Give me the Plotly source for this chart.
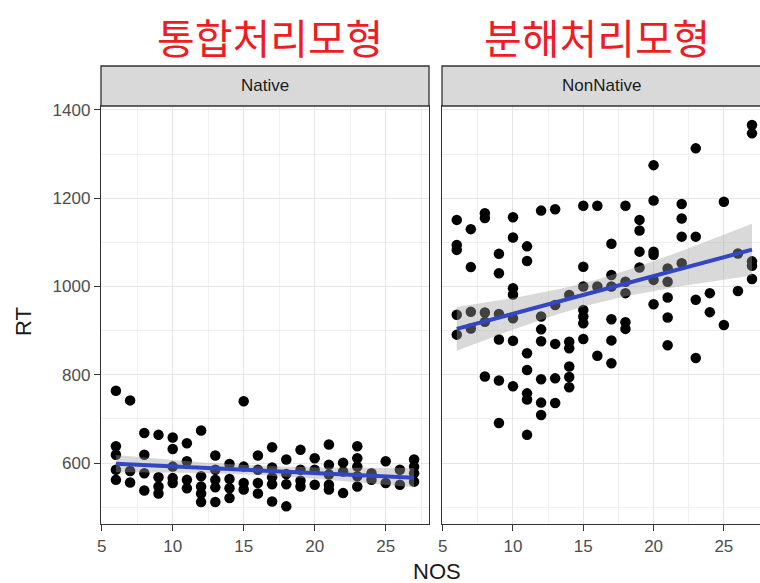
import numpy as np
import plotly.graph_objects as go

# ---------------- data ----------------
native_nos = ([6]*5 + [7]*3 + [8]*4 + [9]*4 + [10]*5 + [11]*4 + [12]*5 + [13]*5 +
              [14]*4 + [15]*4 + [16]*4 + [17]*5 + [18]*4 + [19]*4 + [20]*3 + [21]*5 +
              [22]*3 + [23]*5 + [24]*2 + [25]*2 + [26]*2 + [27]*4)
native_rt = [764, 638, 619, 585, 562,
             742, 582, 556,
             668, 619, 577, 538,
             664, 568, 547, 531,
             658, 632, 592, 566, 555,
             645, 604, 562, 543,
             674, 570, 547, 531, 512,
             617, 585, 562, 545, 512,
             598, 564, 543, 521,
             740, 592, 555, 540,
             617, 585, 555, 531,
             636, 590, 568, 552, 513,
             608, 575, 552, 502,
             630, 585, 560, 547,
             611, 585, 551,
             642, 596, 574, 551, 540,
             601, 581, 532,
             638, 611, 592, 570, 547,
             577, 562,
             604, 555,
             585, 551,
             608, 592, 577, 558]

nonnative_nos = ([6]*5 + [7]*4 + [8]*5 + [9]*6 + [10]*7 + [11]*7 + [12]*7 + [13]*5 +
                 [14]*6 + [15]*7 + [16]*3 + [17]*6 + [18]*5 + [19]*4 + [20]*6 + [21]*5 +
                 [22]*4 + [23]*4 + [24]*2 + [25]*2 + [26]*2 + [27]*5)
nonnative_rt = [1151, 1094, 1083, 936, 891,
                1130, 1044, 943, 905,
                1166, 1155, 941, 920, 796,
                1074, 1030, 938, 880, 787, 691,
                1157, 1111, 996, 982, 928, 877, 774,
                1091, 1058, 849, 811, 758, 744, 664,
                1172, 932, 903, 876, 790, 737, 709,
                1175, 958, 870, 792, 736,
                981, 875, 860, 819, 795, 772,
                1183, 1045, 1000, 947, 932, 917, 881,
                1183, 1000, 843,
                1097, 1026, 1000, 926, 878, 826,
                1183, 1011, 985, 919, 904,
                1151, 1127, 1079, 1043,
                1275, 1195, 1079, 1072, 1015, 960,
                1041, 1011, 975, 930, 867,
                1187, 1154, 1113, 1053,
                1313, 1113, 970, 838,
                985, 942,
                1192, 913,
                1075, 990,
                1366, 1347, 1057, 1047, 1017]

panel_labels = ["Native", "NonNative"]
model_titles = ["통합처리모형", "분해처리모형"]
x_ticks = [5, 10, 15, 20, 25]
y_ticks = [600, 800, 1000, 1200, 1400]

# ---------------- helpers ----------------
def lm_band(x, y, t=1.98, n=80):
    x = np.asarray(x, float); y = np.asarray(y, float)
    b1, b0 = np.polyfit(x, y, 1)
    xs = np.linspace(x.min(), x.max(), n)
    fit = b0 + b1 * xs
    resid = y - (b0 + b1 * x)
    s = np.sqrt(np.sum(resid ** 2) / (len(x) - 2))
    sxx = np.sum((x - x.mean()) ** 2)
    se = s * np.sqrt(1 / len(x) + (xs - x.mean()) ** 2 / sxx)
    return xs, fit, fit - t * se, fit + t * se

fig = go.Figure()
panels = [(native_nos, native_rt, "x", "y"), (nonnative_nos, nonnative_rt, "x2", "y2")]
for xs_, ys_, xa, ya in panels:
    fig.add_trace(go.Scatter(x=xs_, y=ys_, mode="markers", xaxis=xa, yaxis=ya,
                             marker=dict(color="black", size=10.5, line=dict(width=0)),
                             showlegend=False, hoverinfo="skip"))
    gx, gfit, glo, ghi = lm_band(xs_, ys_)
    fig.add_trace(go.Scatter(x=np.concatenate([gx, gx[::-1]]),
                             y=np.concatenate([ghi, glo[::-1]]),
                             fill="toself", fillcolor="rgba(160,160,160,0.4)",
                             line=dict(width=0), mode="lines", xaxis=xa, yaxis=ya,
                             showlegend=False, hoverinfo="skip"))
    fig.add_trace(go.Scatter(x=gx, y=gfit, mode="lines", xaxis=xa, yaxis=ya,
                             line=dict(color="#3347C4", width=4),
                             showlegend=False, hoverinfo="skip"))

W, H = 760, 583
L, R, T, B = 101, 0, 106, 59
pw = W - L - R
ph = H - T - B
d1 = [0, 328 / pw]
d2 = [341 / pw, 1]

grid = "#E6E6E6"
tickfont = dict(family="Liberation Sans, Arial", size=17, color="#4D4D4D")
axis_common = dict(showgrid=True, gridcolor=grid, gridwidth=1.3,
                   zeroline=False, showline=True, linecolor="#333333", linewidth=1.3,
                   mirror=True, tickcolor="#333333", tickwidth=1.3, tickfont=tickfont)
xminor = dict(dtick=2.5, tick0=0, showgrid=True, gridcolor="#F0F0F0", gridwidth=0.9, ticks="")
yminor = dict(dtick=100, tick0=0, showgrid=True, gridcolor="#F0F0F0", gridwidth=0.9, ticks="")

fig.update_layout(
    width=W, height=H, margin=dict(l=L, r=R, t=T, b=B, pad=0),
    paper_bgcolor="white", plot_bgcolor="white",
    xaxis=dict(domain=d1, range=[4.95, 28.05], tickvals=x_ticks, anchor="y",
               ticks="outside", ticklen=6, minor=xminor, **axis_common),
    xaxis2=dict(domain=d2, range=[4.95, 27.57], tickvals=x_ticks, anchor="y2",
                ticks="outside", ticklen=6, minor=xminor, **axis_common),
    yaxis=dict(domain=[0, 1], range=[462, 1409], tickvals=y_ticks, anchor="x",
               ticks="outside", ticklen=6, minor=yminor, **axis_common),
    yaxis2=dict(domain=[0, 1], range=[462, 1409], tickvals=y_ticks, anchor="x2",
                matches="y", showticklabels=False, ticks="", minor=yminor, **axis_common),
)

strip_h = 40 / ph
shapes = []
annotations = []
strip_centers = [(101 + 429) / 2, 601]
for dom, lab, cxs in zip([d1, d2], panel_labels, strip_centers):
    shapes.append(dict(type="rect", xref="paper", yref="paper",
                       x0=dom[0], x1=dom[1] + (0.01 if dom[1] == 1 else 0),
                       y0=1, y1=1 + strip_h,
                       fillcolor="#D9D9D9", line=dict(color="#333333", width=1.3),
                       layer="above"))
    annotations.append(dict(text=lab, xref="paper", yref="paper",
                            x=(cxs - L) / pw, y=1 + strip_h / 2, showarrow=False,
                            font=dict(family="Liberation Sans, Arial", size=17, color="#1A1A1A"),
                            xanchor="center", yanchor="middle"))

for cx, txt in zip([270, 597], model_titles):
    annotations.append(dict(text=txt, xref="paper", yref="paper",
                            x=(cx - L) / pw, y=1 + (T - 36) / ph, showarrow=False,
                            font=dict(family="Noto Sans CJK KR", size=41, color="#EE1C25"),
                            xanchor="center", yanchor="middle"))

annotations.append(dict(text="NOS", xref="paper", yref="paper",
                        x=(437 - L) / pw, y=-(571 - (T + ph)) / ph, showarrow=False,
                        font=dict(family="Liberation Sans, Arial", size=22, color="#1A1A1A"),
                        xanchor="center", yanchor="middle"))
annotations.append(dict(text="RT", xref="paper", yref="paper",
                        x=-(L - 23) / pw, y=(T + ph - 322) / ph, showarrow=False, textangle=-90,
                        font=dict(family="Liberation Sans, Arial", size=22, color="#1A1A1A"),
                        xanchor="center", yanchor="middle"))

fig.update_layout(shapes=shapes, annotations=annotations)
fig.write_html("out.html", config={"displayModeBar": False},
               post_script="document.body.style.margin='0px';document.body.style.padding='0px';")
